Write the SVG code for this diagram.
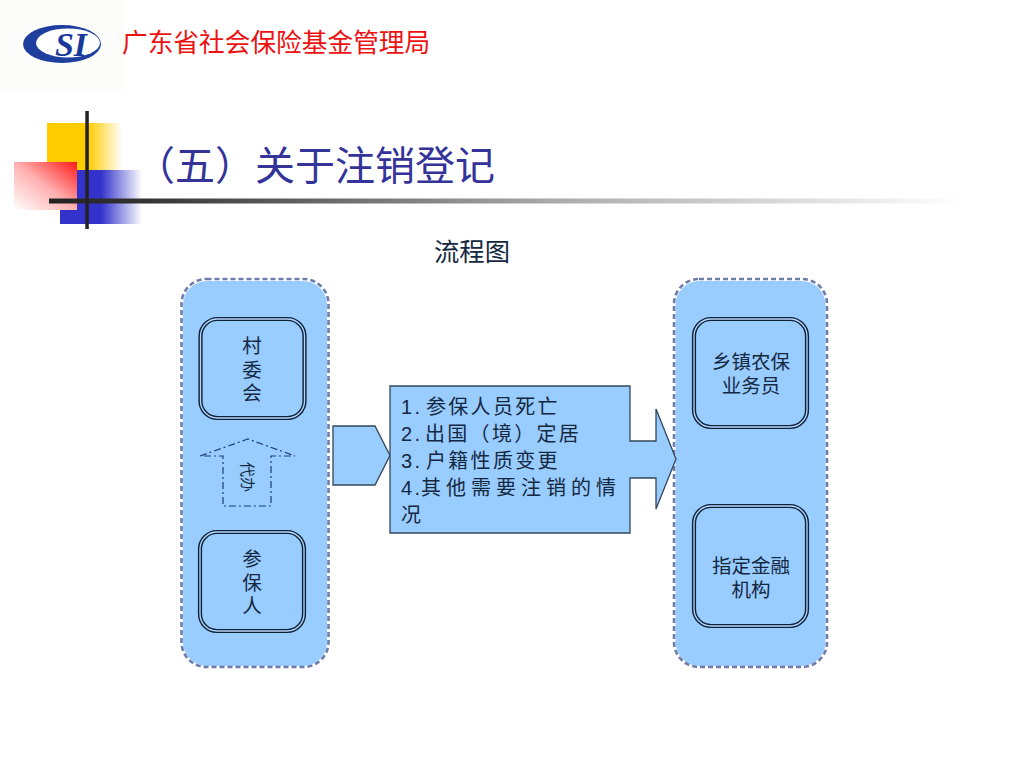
<svg xmlns="http://www.w3.org/2000/svg" width="1024" height="768" viewBox="0 0 1024 768">
<style>
text{font-family:"Liberation Sans","Noto Sans CJK SC",sans-serif;fill:#14283f}
.m{text-anchor:middle;font-size:19.500px}
.l{font-size:20px;letter-spacing:2.300px}
.fill{fill:#99ccff}
.dash{fill:none;stroke:#6f7dab;stroke-width:2.6;stroke-dasharray:5 3}
.inner{fill:#99ccff;stroke:#0f2338;stroke-width:4.200}
.innerw{fill:none;stroke:#b5d8ff;stroke-width:1.300}
.blk{fill:#99ccff;stroke:#33475a;stroke-width:1.300}
.dd{fill:none;stroke:#1d3f70;stroke-width:1.200;stroke-dasharray:7 3 2 3}
</style>
<defs>
<linearGradient id="y" x1="0" x2="1" y1="0" y2="0"><stop offset=".55" stop-color="#ffcc00"/><stop offset="1" stop-color="#ffcc00" stop-opacity="0"/></linearGradient>
<linearGradient id="b" x1="0" x2="1" y1="0" y2="0"><stop offset=".5" stop-color="#3333cc"/><stop offset="1" stop-color="#3333cc" stop-opacity="0"/></linearGradient>
<linearGradient id="r" x1="1" x2="0" y1="0" y2="1"><stop offset="0" stop-color="#ff1a1a"/><stop offset=".5" stop-color="#ffb0b0"/><stop offset="1" stop-color="#ffffff"/></linearGradient>
<linearGradient id="k" x1="0" x2="1" y1="0" y2="0"><stop offset="0" stop-color="#222"/><stop offset=".1" stop-color="#333"/><stop offset=".55" stop-color="#aaa"/><stop offset="1" stop-color="#fff"/></linearGradient>
</defs>
<rect width="1024" height="768" fill="#fff"/>
<g id="header">
<rect x="0" y="0" width="125" height="90" fill="#fcfdfb"/>
<ellipse cx="62" cy="44" rx="39" ry="19" fill="#1f3f9f"/>
<ellipse cx="68" cy="43" rx="32" ry="14.500" fill="#fff"/>
<text x="71" y="56" text-anchor="middle" style="font-family:'Liberation Serif',serif;font-style:italic;font-weight:bold;font-size:34px;fill:#1a3a9a">SI</text>
<text x="122" y="52" style="font-size:25.700px;fill:#ee1111">广东省社会保险基金管理局</text>
</g>
<g id="decor">
<rect x="47" y="123" width="75" height="48" fill="url(#y)"/>
<rect x="60" y="170" width="82" height="54" fill="url(#b)"/>
<rect x="14" y="162" width="63" height="48" fill="url(#r)"/>
<rect x="49" y="198.500" width="915" height="5" fill="url(#k)"/>
<rect x="85.300" y="111" width="3.500" height="118" fill="#222"/>
</g>
<text id="title" x="135" y="180" style="font-size:40px;fill:#333399">（五）关于注销登记</text>
<text id="subtitle" x="472" y="261" text-anchor="middle" style="font-size:25.300px">流程图</text>
<g id="left-panel"><rect class="fill" x="183" y="281" width="144" height="385" rx="24"/><rect class="dash" x="181.500" y="279" width="147" height="388" rx="25"/></g>
<g id="right-panel"><rect class="fill" x="675.500" y="281" width="150" height="385" rx="24"/><rect class="dash" x="674" y="279" width="153" height="388" rx="25"/></g>
<g id="connectors">
<path class="blk" d="M333 426H375L390 455.500L375 485H333Z"/>
<path class="dd" d="M200 456L248 439L295 456H271V506H223V456Z"/>
</g>
<g id="cunweihui"><rect class="inner" x="200.500" y="319" width="104" height="99" rx="17"/><rect class="innerw" x="200.500" y="319" width="104" height="99" rx="17"/>
<text class="m" x="252" y="353">村</text><text class="m" x="252" y="377">委</text><text class="m" x="252" y="400">会</text></g>
<g id="canbaoren"><rect class="inner" x="200" y="532" width="104" height="99" rx="17"/><rect class="innerw" x="200" y="532" width="104" height="99" rx="17"/>
<text class="m" x="252" y="566">参</text><text class="m" x="252" y="590">保</text><text class="m" x="252" y="613">人</text></g>
<g id="daiban"><text transform="translate(247 477) rotate(90)" text-anchor="middle" y="5" style="font-size:15px">代办</text></g>
<g id="xiangzhen"><rect class="inner" x="694" y="319" width="113" height="108" rx="17"/><rect class="innerw" x="694" y="319" width="113" height="108" rx="17"/>
<text class="m" x="751" y="369">乡镇农保</text><text class="m" x="751" y="393">业务员</text></g>
<g id="jinrong"><rect class="inner" x="694" y="506" width="113" height="120" rx="17"/><rect class="innerw" x="694" y="506" width="113" height="120" rx="17"/>
<text class="m" x="751" y="573">指定金融</text><text class="m" x="751" y="597">机构</text></g>
<g id="reasons"><path class="blk" d="M390 386H630V441H656V409L676 459L656 509V478H630V533H390Z"/>
<text class="l" x="401" y="414">1.<tspan x="426">参保人员死亡</tspan></text>
<text class="l" x="401" y="441">2.<tspan x="425">出国（境）定居</tspan></text>
<text class="l" x="401" y="468">3.<tspan x="426">户籍性质变更</tspan></text>
<text class="l" x="401" y="495">4.<tspan x="421" style="letter-spacing:5px">其他需要注销的情</tspan></text>
<text class="l" x="401" y="522">况</text></g>
</svg>
